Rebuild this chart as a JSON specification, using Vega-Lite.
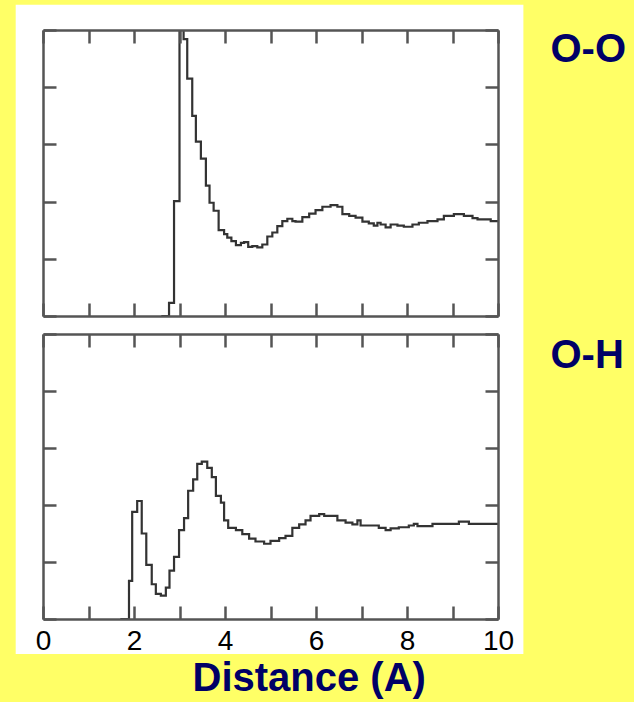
{
  "$schema": "https://vega.github.io/schema/vega-lite/v6.json",
  "background": "#ffff66",
  "padding": {"left": 15, "top": 4, "right": 20, "bottom": 12},
  "bounds": "flush",
  "spacing": 18,
  "datasets": {
    "oo": [{"r":2.6,"g":0},{"r":2.77,"g":0.23},{"r":2.88,"g":2.01},{"r":3.0,"g":5.4},{"r":3.09,"g":4.84},{"r":3.17,"g":4.15},{"r":3.28,"g":3.5},{"r":3.36,"g":3.05},{"r":3.47,"g":2.75},{"r":3.58,"g":2.28},{"r":3.66,"g":1.98},{"r":3.75,"g":1.84},{"r":3.86,"g":1.5},{"r":3.98,"g":1.43},{"r":4.05,"g":1.37},{"r":4.14,"g":1.31},{"r":4.24,"g":1.24},{"r":4.35,"g":1.28},{"r":4.42,"g":1.29},{"r":4.51,"g":1.21},{"r":4.6,"g":1.22},{"r":4.71,"g":1.2},{"r":4.82,"g":1.25},{"r":4.93,"g":1.39},{"r":5.04,"g":1.46},{"r":5.15,"g":1.57},{"r":5.26,"g":1.66},{"r":5.37,"g":1.7},{"r":5.48,"g":1.66},{"r":5.55,"g":1.65},{"r":5.7,"g":1.73},{"r":5.85,"g":1.79},{"r":5.99,"g":1.85},{"r":6.14,"g":1.91},{"r":6.32,"g":1.94},{"r":6.47,"g":1.91},{"r":6.58,"g":1.78},{"r":6.73,"g":1.75},{"r":6.87,"g":1.72},{"r":7.02,"g":1.65},{"r":7.16,"g":1.62},{"r":7.27,"g":1.58},{"r":7.35,"g":1.63},{"r":7.42,"g":1.6},{"r":7.53,"g":1.55},{"r":7.64,"g":1.6},{"r":7.79,"g":1.58},{"r":7.93,"g":1.56},{"r":8.12,"g":1.6},{"r":8.26,"g":1.63},{"r":8.45,"g":1.66},{"r":8.67,"g":1.69},{"r":8.81,"g":1.75},{"r":9.03,"g":1.78},{"r":9.25,"g":1.75},{"r":9.44,"g":1.71},{"r":9.55,"g":1.69},{"r":9.84,"g":1.66},{"r":10.0,"g":1.66}],
    "oh": [{"r":1.7,"g":0},{"r":1.89,"g":0.67},{"r":1.96,"g":1.88},{"r":2.07,"g":2.07},{"r":2.17,"g":1.5},{"r":2.27,"g":0.95},{"r":2.39,"g":0.61},{"r":2.48,"g":0.44},{"r":2.59,"g":0.41},{"r":2.7,"g":0.55},{"r":2.78,"g":0.85},{"r":2.88,"g":1.09},{"r":2.99,"g":1.56},{"r":3.1,"g":1.77},{"r":3.19,"g":2.25},{"r":3.3,"g":2.45},{"r":3.39,"g":2.72},{"r":3.49,"g":2.76},{"r":3.61,"g":2.65},{"r":3.71,"g":2.49},{"r":3.8,"g":2.16},{"r":3.91,"g":2.04},{"r":3.98,"g":1.73},{"r":4.07,"g":1.6},{"r":4.24,"g":1.56},{"r":4.38,"g":1.49},{"r":4.53,"g":1.41},{"r":4.67,"g":1.36},{"r":4.86,"g":1.32},{"r":5.0,"g":1.37},{"r":5.19,"g":1.42},{"r":5.33,"g":1.46},{"r":5.48,"g":1.6},{"r":5.63,"g":1.66},{"r":5.77,"g":1.73},{"r":5.88,"g":1.81},{"r":6.07,"g":1.84},{"r":6.18,"g":1.81},{"r":6.47,"g":1.73},{"r":6.65,"g":1.69},{"r":6.8,"g":1.66},{"r":6.91,"g":1.73},{"r":6.98,"g":1.64},{"r":7.38,"g":1.6},{"r":7.53,"g":1.56},{"r":7.64,"g":1.59},{"r":7.82,"g":1.61},{"r":8.04,"g":1.64},{"r":8.15,"g":1.67},{"r":8.23,"g":1.63},{"r":8.56,"g":1.67},{"r":9.14,"g":1.71},{"r":9.36,"g":1.67},{"r":10.0,"g":1.67}]
  },
  "config": {
    "view": {"stroke": null},
    "axis": {"grid": false, "domain": true, "domainColor": "#555555", "domainWidth": 2.5, "ticks": true, "tickSize": -13, "tickWidth": 2.5, "tickColor": "#555555", "labels": false}
  },
  "vconcat": [
    {
      "width": 455,
      "height": 286,
      "layer": [
        {
          "data": {"values": [{}]},
          "mark": {"type": "rect", "fill": "white"},
          "encoding": {
            "x": {"datum": -0.6, "type": "quantitative", "axis": null},
            "x2": {"datum": 10.558},
            "y": {"datum": 5.443, "type": "quantitative", "axis": null},
            "y2": {"datum": -5.91}
          }
        },
        {
          "data": {"name": "oo"},
          "mark": {"type": "line", "interpolate": "step-after", "clip": true, "color": "#333333", "strokeWidth": 2.2},
          "encoding": {
            "x": {"field": "r", "type": "quantitative", "scale": {"domain": [0, 10], "nice": false, "zero": false}, "axis": {"orient": "bottom", "zindex": 1, "values": [0,1,2,3,4,5,6,7,8,9,10], "title": null}},
            "y": {"field": "g", "type": "quantitative", "scale": {"domain": [0, 5], "nice": false}, "axis": {"orient": "left", "zindex": 1, "values": [0,1,2,3,4,5], "title": null}}
          }
        },
        {
          "data": {"name": "oo"},
          "mark": {"type": "line", "opacity": 0, "clip": true},
          "encoding": {
            "x": {"field": "r", "type": "quantitative", "scale": {"domain": [0, 10], "nice": false, "zero": false}, "axis": {"orient": "top", "zindex": 1, "values": [0,1,2,3,4,5,6,7,8,9,10], "title": null}},
            "y": {"field": "g", "type": "quantitative", "scale": {"domain": [0, 5], "nice": false}, "axis": {"orient": "right", "zindex": 1, "values": [0,1,2,3,4,5], "title": "O-O", "titleAngle": 0, "titleX": 52, "titleY": 31.7, "titleAlign": "left", "titleBaseline": "alphabetic", "titleFont": "Liberation Sans", "titleFontWeight": "bold", "titleFontSize": 40, "titleColor": "#000066"}}
          }
        }
      ],
      "resolve": {"axis": {"x": "independent", "y": "independent"}}
    },
    {
      "width": 455,
      "height": 285,
      "layer": [
        {
          "data": {"name": "oh"},
          "mark": {"type": "line", "interpolate": "step-after", "clip": true, "color": "#333333", "strokeWidth": 2.2},
          "encoding": {
            "x": {"field": "r", "type": "quantitative", "scale": {"domain": [0, 10], "nice": false, "zero": false}, "axis": {"orient": "bottom", "zindex": 1, "values": [0,1,2,3,4,5,6,7,8,9,10], "labels": true, "labelExpr": "datum.value % 2 === 0 ? datum.label : ''", "labelFont": "Liberation Sans", "labelFontSize": 28, "labelColor": "black", "labelPadding": 43, "labelBaseline": "alphabetic", "labelFlush": false, "labelOverlap": false, "title": "Distance (A)", "titleFont": "Liberation Sans", "titleFontWeight": "bold", "titleFontSize": 40, "titleColor": "#000066", "titleX": 265.7, "titleY": 71, "titleAlign": "center", "titleBaseline": "alphabetic"}},
            "y": {"field": "g", "type": "quantitative", "scale": {"domain": [0, 5], "nice": false}, "axis": {"orient": "left", "zindex": 1, "values": [0,1,2,3,4,5], "title": null}}
          }
        },
        {
          "data": {"name": "oh"},
          "mark": {"type": "line", "opacity": 0, "clip": true},
          "encoding": {
            "x": {"field": "r", "type": "quantitative", "scale": {"domain": [0, 10], "nice": false, "zero": false}, "axis": {"orient": "top", "zindex": 1, "values": [0,1,2,3,4,5,6,7,8,9,10], "title": null}},
            "y": {"field": "g", "type": "quantitative", "scale": {"domain": [0, 5], "nice": false}, "axis": {"orient": "right", "zindex": 1, "values": [0,1,2,3,4,5], "title": "O-H", "titleAngle": 0, "titleX": 52, "titleY": 33.2, "titleAlign": "left", "titleBaseline": "alphabetic", "titleFont": "Liberation Sans", "titleFontWeight": "bold", "titleFontSize": 40, "titleColor": "#000066"}}
          }
        }
      ],
      "resolve": {"axis": {"x": "independent", "y": "independent"}}
    }
  ]
}
